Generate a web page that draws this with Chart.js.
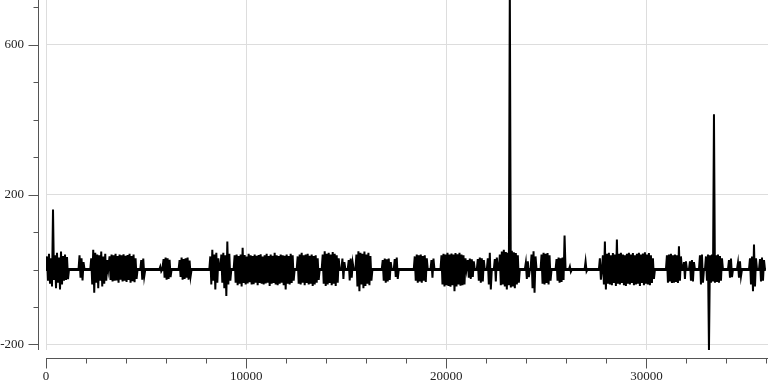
<!DOCTYPE html>
<html>
<head>
<meta charset="utf-8">
<script src="https://cdn.jsdelivr.net/npm/chart.js@4/dist/chart.umd.min.js"></script>
<style>
  html, body { margin: 0; padding: 0; background: #fff; }
  canvas { display: block; }
</style>
</head>
<body>
<canvas id="signalChart" width="768" height="384"></canvas>
<script>
// =================== DATA ===================
// one reading every 50 samples inside each burst
const sampleStep = 50;
const lastSample = 35960;

const xTickLabels = [0, 10000, 20000, 30000];
const xMinorTicks = [0, 2000, 4000, 6000, 8000, 10000, 12000, 14000, 16000, 18000,
  20000, 22000, 24000, 26000, 28000, 30000, 32000, 34000, 36000];
const yTickLabels = [-200, 200, 600];
const yMinorTicks = [-200, -100, 0, 100, 200, 300, 400, 500, 600, 700];

const burstStarts = [50, 1675, 2260, 3175, 4760, 5710, 5875, 6675, 8210, 8760,
  9425, 12575, 13825, 14810, 15125, 15510, 16825, 17425, 18425, 19260,
  19760, 21075, 21575, 22075, 22425, 22675, 23975, 24260, 24760, 25510,
  26175, 26960, 27675, 27825, 31025, 31875, 32175, 32675, 32975, 34125,
  34575, 35175, 35675];

const burstValues = [
  [35, -30, 42, -38, 30, -45, 160, -28, 38, -50, 45, -35, 32, -53, 48, -40, 36, -30, 40, -28, 33, -26],
  [38, -22, 30, -29, 20],
  [30, -40, 53, -62, 45, -35, 40, -50, 38, -30, 48, -45, 35, -38, 42, -30, 25],
  [35, -28, 40, -32, 38, -30, 42, -29, 36, -35, 40, -27, 38, -32, 41, -30, 37, -33, 39, -28, 42, -35, 36, -31, 40, -34, 30, -25],
  [25, -27, 29, -18],
  [8, -5],
  [28, -22, 32, -27, 30, -25, 26, -20],
  [25, -20, 32, -27, 28, -25, 30, -22, 32, -27, 24, -18],
  [35, -40, 53, -30, 40, -53, 45, -35, 30],
  [40, -35, 45, -50, 38, -71, 75, -40, 42, -30],
  [38, -35, 40, -42, 36, -38, 40, -45, 58, -36, 39, -40, 35, -37, 42, -34, 38, -40, 36, -39,
   40, -35, 37, -42, 39, -36, 41, -38, 35, -40, 38, -37, 42, -35, 36, -44, 40, -38, 37, -36,
   45, -40, 38, -42, 36, -38, 40, -35, 38, -42, 37, -53, 40, -38, 36, -40, 42, -36, 38, -30],
  [35, -38, 40, -40, 45, -35, 38, -42, 40, -36, 42, -40, 37, -38, 40, -44, 36, -40, 38, -35, 30, -28],
  [40, -38, 49, -44, 42, -40, 45, -36, 40, -42, 47, -38, 42, -44, 38, -35, 30],
  [29, -25, 20],
  [25, -29, 29, -22, 18],
  [40, -45, 49, -58, 45, -40, 42, -50, 48, -44, 40, -38, 45, -42, 36, -30],
  [25, -30, 29, -35, 27, -32, 29, -28, 20],
  [28, -20, 32, -25],
  [35, -30, 40, -35, 38, -32, 40, -35, 36, -30, 38, -33, 30],
  [25, -22, 29],
  [38, -40, 42, -45, 40, -42, 45, -44, 40, -46, 43, -42, 40, -58, 44, -45, 41, -40, 45, -43, 40, -42, 38, -40, 30],
  [25, -22, 29, -25, 27, -20, 22],
  [28, -30, 32, -35, 30, -32, 25],
  [30, -40, 45, -53],
  [28, -32, 32],
  [40, -42, 48, -40, 53, -45, 47, -53, 45, -42, 760, -48, 50, -45, 46, -50, 44, -40, 38, -35],
  [18, -25, 22, -20],
  [40, -50, 49, -62, 35],
  [40, -38, 45, -40, 42, -36, 44, -40, 38, -30],
  [28, -30, 32, -35, 30, -33, 32, -28, 91],
  [8, -6],
  [22, -5],
  [30, -27],
  [38, -40, 75, -53, 42, -38, 45, -40, 38, -42, 44, -36, 40, -44, 80, -38, 42, -40, 45, -36,
   40, -42, 38, -44, 42, -38, 45, -40, 40, -36, 44, -42, 38, -40, 42, -38, 45, -44, 40, -36,
   43, -42, 46, -38, 40, -40, 44, -42, 38, -36, 30, -25],
  [38, -35, 40, -32, 42, -36, 38, -35, 40, -33, 38, -36, 62, -30, 35],
  [20, -25, 22],
  [22, -30, 25, -32, 20],
  [38, -40, 40, -35],
  [35, -30, 40, -215, 38, -35, 40, -32, 415, -35, 38, -33, 40, -35, 36, -30, 30],
  [25, -22, 29, -20],
  [18, -22, 22, -18],
  [30, -40, 35, -58, 67, -45, 30],
  [28, -32, 32, -30, 25]
];

// =================== BUILD POINTS ===================
const points = [{ x: 0, y: 0 }];
burstStarts.forEach((x0, i) => {
  const vals = burstValues[i];
  points.push({ x: x0 - sampleStep, y: 0 });
  vals.forEach((v, j) => points.push({ x: x0 + j * sampleStep, y: v }));
  points.push({ x: x0 + vals.length * sampleStep, y: 0 });
});
points.push({ x: lastSample, y: 0 });

// =================== DETACHED AXES ===================
const AXIS_COLOR = "#555";
const detachedAxes = {
  id: "detachedAxes",
  afterDraw(chart) {
    const { ctx, chartArea, scales } = chart;
    const xs = scales.x, ys = scales.y;
    const axisY = chartArea.bottom + 8.5;
    const axisX = chartArea.left - 7.5;
    ctx.save();
    ctx.strokeStyle = AXIS_COLOR;
    ctx.lineWidth = 1;
    ctx.beginPath();
    // x axis
    ctx.moveTo(chartArea.left, axisY);
    ctx.lineTo(chartArea.right, axisY);
    xMinorTicks.forEach((v) => {
      const px = Math.round(xs.getPixelForValue(v)) + 0.5;
      const len = xTickLabels.includes(v) ? 10 : 5;
      ctx.moveTo(px, axisY);
      ctx.lineTo(px, axisY + len);
    });
    // y axis
    ctx.moveTo(axisX, chartArea.top);
    ctx.lineTo(axisX, chartArea.bottom);
    yMinorTicks.forEach((v) => {
      const py = Math.round(ys.getPixelForValue(v)) + 0.5;
      const len = yTickLabels.includes(v) ? 10 : 5;
      ctx.moveTo(axisX, py);
      ctx.lineTo(axisX - len, py);
    });
    ctx.stroke();
    ctx.restore();
  }
};

// =================== RENDER CHART ===================
Chart.defaults.font.family = "'Liberation Serif', serif";
Chart.defaults.font.size = 13;
Chart.defaults.color = "#222";

new Chart(document.getElementById("signalChart"), {
  type: "line",
  data: {
    datasets: [
      {
        data: points,
        borderColor: "#000",
        borderWidth: 2,
        pointRadius: 0,
        tension: 0
      },
      {
        // quiet-level noise reads as a thick line at zero
        data: [{ x: 0, y: 0 }, { x: lastSample, y: 0 }],
        borderColor: "#000",
        borderWidth: 3,
        pointRadius: 0
      }
    ]
  },
  options: {
    responsive: false,
    animation: false,
    devicePixelRatio: 1,
    layout: { padding: 0 },
    plugins: { legend: { display: false }, tooltip: { enabled: false } },
    scales: {
      x: {
        type: "linear",
        min: 0,
        max: 36075,
        grid: { color: "#ddd", drawTicks: false },
        border: { display: false },
        ticks: { padding: 19, maxRotation: 0, callback: (v) => String(v) },
        afterBuildTicks: (s) => { s.ticks = xTickLabels.map((v) => ({ value: v })); },
        afterFit: (s) => { s.height = 34; s.paddingLeft = 0; s.paddingRight = 0; }
      },
      y: {
        type: "linear",
        min: -215,
        max: 720,
        grid: { color: "#ddd", drawTicks: false },
        border: { display: false },
        ticks: { padding: 22, callback: (v) => String(v) },
        afterBuildTicks: (s) => { s.ticks = yTickLabels.map((v) => ({ value: v })); },
        afterFit: (s) => { s.width = 46; s.paddingTop = 0; s.paddingBottom = 0; }
      }
    }
  },
  plugins: [detachedAxes]
});
</script>
</body>
</html>
